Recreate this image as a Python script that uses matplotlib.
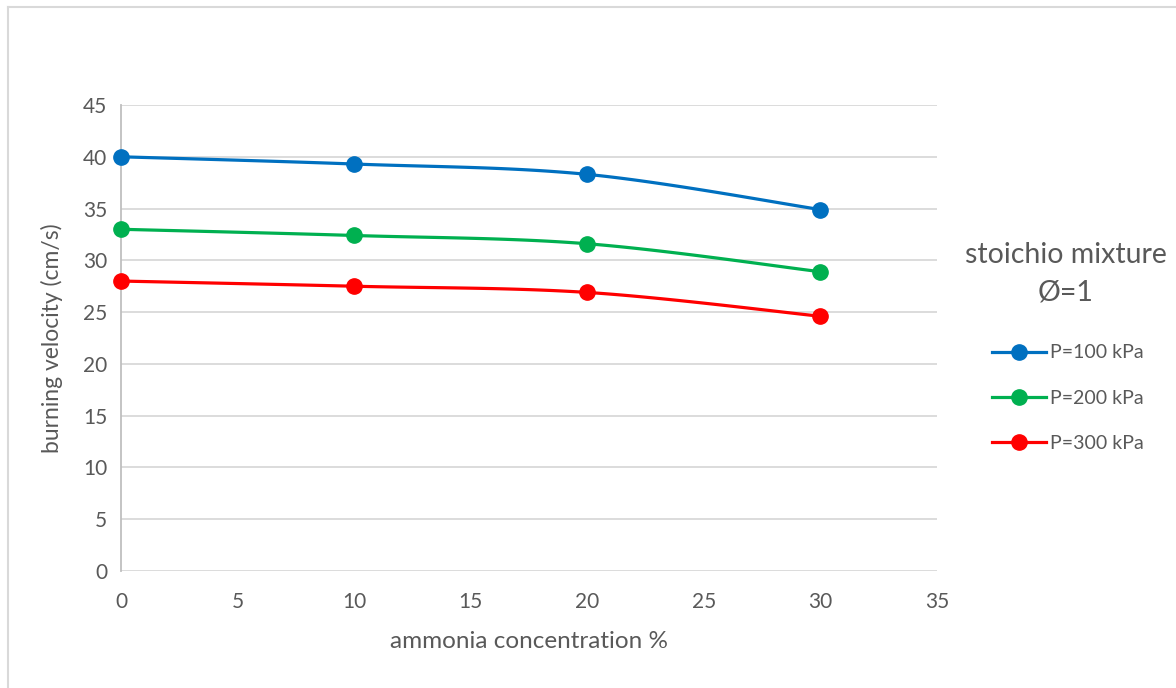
import numpy as np
import matplotlib.pyplot as plt
from matplotlib.lines import Line2D

# data
ammonia = [0, 10, 20, 30]
p100 = [40.0, 39.3, 38.3, 34.9]
p200 = [33.0, 32.4, 31.6, 28.9]
p300 = [28.0, 27.5, 26.9, 24.6]
series_labels = ["P=100 kPa", "P=200 kPa", "P=300 kPa"]
series_colors = ["#0070C0", "#00B050", "#FF0000"]

plt.rcParams['font.family'] = ['Lato', 'DejaVu Sans']
TXT = "#595959"
W, H = 1176, 688


def smooth(x, y, n=40):
    # excel-style smoothed line (bezier through the points)
    x = np.asarray(x, float)
    y = np.asarray(y, float)
    px = np.concatenate([[x[0]], x, [x[-1]]])
    py = np.concatenate([[y[0]], y, [y[-1]]])
    xs, ys = [], []
    t = np.linspace(0, 1, n)
    for i in range(1, len(px) - 2):
        p0 = np.array([px[i], py[i]])
        p3 = np.array([px[i + 1], py[i + 1]])
        c1 = p0 + (np.array([px[i + 1], py[i + 1]]) - np.array([px[i - 1], py[i - 1]])) / 6
        c2 = p3 - (np.array([px[i + 2], py[i + 2]]) - np.array([px[i], py[i]])) / 6
        b = ((1 - t) ** 3)[:, None] * p0 + (3 * (1 - t) ** 2 * t)[:, None] * c1 \
            + (3 * (1 - t) * t ** 2)[:, None] * c2 + (t ** 3)[:, None] * p3
        xs.extend(b[:, 0])
        ys.extend(b[:, 1])
    return xs, ys


fig = plt.figure(figsize=(W / 100, H / 100), dpi=100)
ax = fig.add_axes([121 / W, 1 - 571 / H, (937 - 121) / W, (571 - 105) / H])

handles = []
for vals, lab, col in zip([p100, p200, p300], series_labels, series_colors):
    sx, sy = smooth(ammonia, vals)
    ax.plot(sx, sy, color=col, lw=2.3, zorder=3, solid_capstyle='round')
    ax.plot(ammonia, vals, 'o', color=col, ms=11, zorder=4, clip_on=False)
    handles.append(Line2D([0], [0], color=col, lw=2.3, marker='o', ms=11))

ax.set_xlim(0, 35)
ax.set_ylim(0, 45)
ax.set_xticks(range(0, 36, 5))
ax.set_yticks(range(0, 46, 5))
ax.yaxis.grid(True, color="#D9D9D9", lw=1.3)
ax.set_axisbelow(True)
for s in ['top', 'right', 'bottom']:
    ax.spines[s].set_visible(False)
ax.spines['left'].set_color("#BFBFBF")
ax.spines['left'].set_linewidth(1.3)
ax.tick_params(length=0, labelsize=15, colors=TXT)
ax.tick_params(axis='x', pad=15)
ax.tick_params(axis='y', pad=10)
ax.set_xlabel("ammonia concentration %", fontsize=17.5, color=TXT, labelpad=14)
ax.set_ylabel("burning velocity (cm/s)", fontsize=16.5, color=TXT, labelpad=14)

# legend title, two centred lines
fig.text(1066 / W, 1 - 255 / H, "stoichio mixture", ha='center', va='center', fontsize=20.5, color=TXT)
fig.text(1066 / W, 1 - 293 / H, "\u00d8=1", ha='center', va='center', fontsize=20.5, color=TXT)

fig.legend(handles, series_labels, loc='center', bbox_to_anchor=(1068 / W, 1 - 398 / H),
           frameon=False, fontsize=14, labelcolor=TXT, handlelength=2.8,
           labelspacing=1.45, handletextpad=0.2)

# chart border
fig.add_artist(Line2D([8 / W, 8 / W], [0, 1 - 7 / H], color="#D9D9D9", lw=1.5))
fig.add_artist(Line2D([8 / W, 1], [1 - 7 / H, 1 - 7 / H], color="#D9D9D9", lw=1.5))

fig.savefig("out.png", dpi=100)
